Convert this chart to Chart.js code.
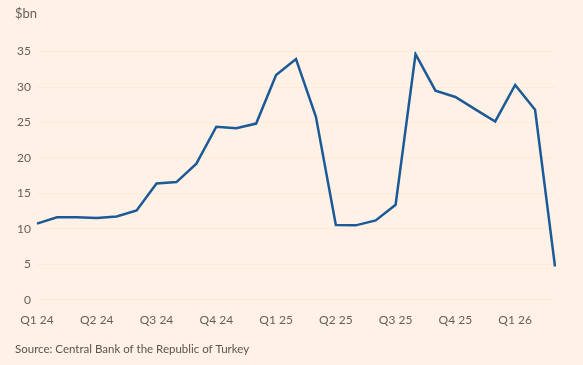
<!DOCTYPE html>
<html>
<head>
<meta charset="utf-8">
<script src="https://cdn.jsdelivr.net/npm/chart.js@4"></script>
<style>
  html, body { margin: 0; padding: 0; background: #FFF1E5; }
  #wrap { width: 583px; height: 365px; position: relative; }
</style>
</head>
<body>
<div id="wrap"><canvas id="c" width="583" height="365"></canvas></div>
<script>
// Monthly series, Jan 2024 – Mar 2026 ($bn)
const months = [
  '2024-01','2024-02','2024-03','2024-04','2024-05','2024-06',
  '2024-07','2024-08','2024-09','2024-10','2024-11','2024-12',
  '2025-01','2025-02','2025-03','2025-04','2025-05','2025-06',
  '2025-07','2025-08','2025-09','2025-10','2025-11','2025-12',
  '2026-01','2026-02','2026-03'
];
const values = [
  10.75, 11.65, 11.65, 11.55, 11.75, 12.6,
  16.4, 16.6, 19.2, 24.4, 24.2, 24.85,
  31.7, 33.95, 25.8, 10.55, 10.5, 11.2,
  13.4, 34.65, 29.5, 28.6, 26.85, 25.15,
  30.3, 26.8, 4.7
];
const quarterLabels = ['Q1 24','Q2 24','Q3 24','Q4 24','Q1 25','Q2 25','Q3 25','Q4 25','Q1 26'];
const yTicks = [0, 5, 10, 15, 20, 25, 30, 35];

const textColor = '#66605c';
const fontFamily = 'Lato, "Open Sans", sans-serif';

new Chart(document.getElementById('c'), {
  type: 'line',
  data: {
    labels: months,
    datasets: [{
      data: values,
      borderColor: '#1b5a97',
      borderWidth: 2.5,
      pointRadius: 0,
      tension: 0,
      fill: false
    }]
  },
  options: {
    responsive: false,
    animation: false,
    layout: { padding: { left: 15, right: 28, top: 0, bottom: 0 } },
    plugins: {
      legend: { display: false },
      tooltip: { enabled: false },
      title: {
        display: true,
        text: '$bn',
        align: 'start',
        color: textColor,
        font: { family: fontFamily, size: 13, weight: 'normal' },
        padding: { top: 6, bottom: 30 }
      },
      subtitle: {
        display: true,
        position: 'bottom',
        text: 'Source: Central Bank of the Republic of Turkey',
        align: 'start',
        color: '#5a5450',
        font: { family: fontFamily, size: 11.5, weight: 'normal' },
        padding: { top: 2, bottom: 9 }
      }
    },
    scales: {
      x: {
        offset: false,
        grid: { display: false, drawTicks: false },
        border: { display: false },
        ticks: {
          autoSkip: false,
          maxRotation: 0,
          padding: 13,
          color: textColor,
          font: { family: fontFamily, size: 12 },
          callback: function(v, i) {
            return i % 3 === 0 ? quarterLabels[i / 3] : '';
          }
        }
      },
      y: {
        min: yTicks[0],
        max: yTicks[yTicks.length - 1],
        afterBuildTicks: function(scale) {
          scale.ticks = yTicks.map(v => ({ value: v }));
        },
        afterFit: function(scale) { scale.width = 22; },
        grid: { color: '#faeadd', drawTicks: false, lineWidth: 1 },
        border: { display: false },
        ticks: {
          padding: 6,
          color: textColor,
          font: { family: fontFamily, size: 12 }
        }
      }
    }
  },
  plugins: [{
    id: 'bg',
    beforeDraw(chart) {
      const ctx = chart.ctx;
      ctx.save();
      ctx.fillStyle = '#FFF1E5';
      ctx.fillRect(0, 0, chart.width, chart.height);
      ctx.restore();
    }
  }]
});
</script>
</body>
</html>
